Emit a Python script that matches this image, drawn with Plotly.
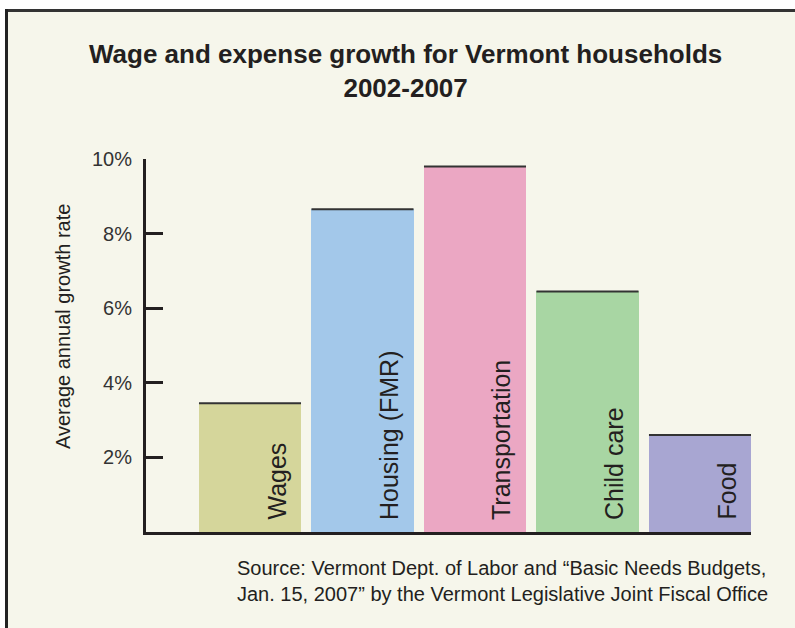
import plotly.graph_objects as go

# Growth rates (% per year), 2002-2007
categories = ["Wages", "Housing (FMR)", "Transportation", "Child care", "Food"]
growth = [3.45, 8.65, 9.8, 6.45, 2.6]
bar_colors = ["#D5D69B", "#A3C8EA", "#EBA7C3", "#A8D6A3", "#A8A6D2"]
tick_values = [2, 4, 6, 8, 10]
tick_labels = ["2%", "4%", "6%", "8%", "10%"]

title_text = "<b>Wage and expense growth for Vermont households<br>2002-2007</b>"
y_title = "Average annual growth rate"
source_text = ("Source: Vermont Dept. of Labor and \u201cBasic Needs Budgets,<br>"
               "Jan. 15, 2007\u201d by the Vermont Legislative Joint Fiscal Office")

FIG_W, FIG_H = 795, 628
L, R, T, B = 146, 44, 159, 96
PW, PH = FIG_W - L - R, FIG_H - T - B

BG = "#F6F6EB"
INK = "#231F20"
FONT = "Liberation Sans, Arial, sans-serif"

bar_width = 0.907
x_pos = list(range(len(categories)))


def px_x(p):
    return (p - L) / PW


def px_y(p):
    return 1 - (p - T) / PH


fig = go.Figure()
fig.add_trace(go.Bar(
    x=x_pos, y=growth, width=bar_width,
    marker=dict(color=bar_colors, line=dict(width=0)),
    hoverinfo="skip", showlegend=False,
))

# dark rule along the top of each bar
cap_x, cap_y = [], []
for xi, v in zip(x_pos, growth):
    cap_x += [xi - bar_width / 2, xi + bar_width / 2, None]
    cap_y += [v, v, None]
fig.add_trace(go.Scatter(
    x=cap_x, y=cap_y, mode="lines",
    line=dict(color="#333333", width=2),
    hoverinfo="skip", showlegend=False,
))

# category names written up inside each bar
for xi, name in zip(x_pos, categories):
    fig.add_annotation(
        x=xi + bar_width / 2, y=0, xref="x", yref="y",
        text=name, textangle=-90, showarrow=False,
        xanchor="right", yanchor="bottom", xshift=-9, yshift=10,
        font=dict(family=FONT, size=25, color=INK),
    )

fig.add_annotation(
    x=px_x(405), y=px_y(71), xref="paper", yref="paper",
    text=title_text, showarrow=False, xanchor="center", yanchor="middle",
    font=dict(family=FONT, size=26, color=INK),
)
fig.add_annotation(
    x=px_x(63), y=px_y(327), xref="paper", yref="paper",
    text=y_title, textangle=-90, showarrow=False,
    xanchor="center", yanchor="middle",
    font=dict(family=FONT, size=20, color=INK),
)
fig.add_annotation(
    x=px_x(235), y=px_y(581), xref="paper", yref="paper",
    text=source_text, showarrow=False, xanchor="left", yanchor="middle",
    align="left", font=dict(family=FONT, size=20, color=INK),
)

# cream panel with a dark rule on its top and left edges
fig.add_shape(type="rect", xref="paper", yref="paper", layer="below",
              x0=px_x(5), x1=px_x(FIG_W + 5), y0=px_y(9), y1=px_y(FIG_H + 5),
              fillcolor=BG, line=dict(width=0))
fig.add_shape(type="line", xref="paper", yref="paper",
              x0=px_x(5), x1=px_x(FIG_W + 5), y0=px_y(10.5), y1=px_y(10.5),
              line=dict(color="#333333", width=3))
fig.add_shape(type="line", xref="paper", yref="paper",
              x0=px_x(6.5), x1=px_x(6.5), y0=px_y(9), y1=px_y(FIG_H + 5),
              line=dict(color="#222222", width=3))

fig.update_layout(
    width=FIG_W, height=FIG_H,
    margin=dict(l=L, r=R, t=T, b=B, pad=0),
    paper_bgcolor="white", plot_bgcolor="rgba(0,0,0,0)",
    bargap=0,
    xaxis=dict(
        range=[-104 / 112.5, 4 + bar_width / 2],
        showgrid=False, zeroline=False, showticklabels=False, ticks="",
        showline=True, linecolor=INK, linewidth=3,
    ),
    yaxis=dict(
        range=[0, 10], showgrid=False, zeroline=False,
        tickvals=tick_values, ticktext=tick_labels,
        ticks="inside", ticklen=17, tickwidth=3, tickcolor=INK,
        showline=True, linecolor=INK, linewidth=3,
        ticklabelstandoff=7,
        tickfont=dict(family=FONT, size=20, color="#333333"),
    ),
)

fig.write_html("out.html")
